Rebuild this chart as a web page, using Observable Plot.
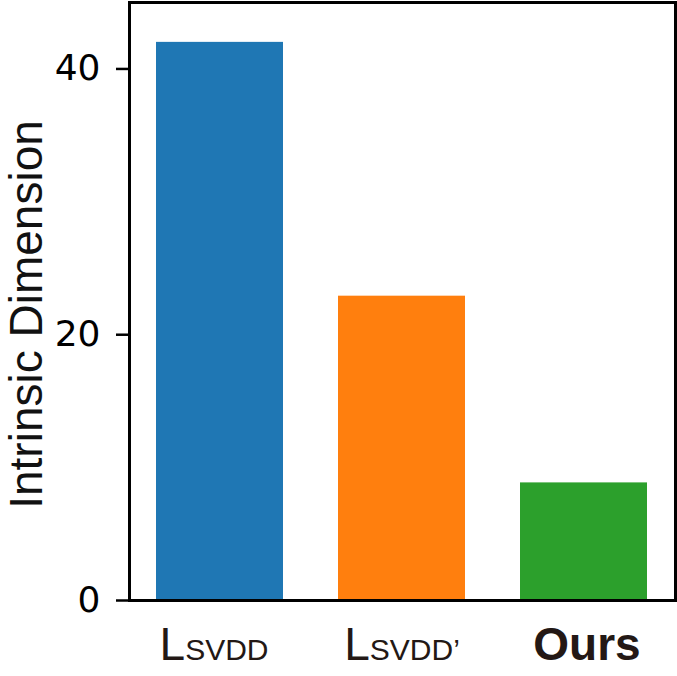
<!DOCTYPE html>
<html>
<head>
<meta charset="utf-8">
<script src="https://cdn.jsdelivr.net/npm/d3@7"></script>
<script src="https://cdn.jsdelivr.net/npm/@observablehq/plot@0.6"></script>
<style>
  html, body { margin: 0; padding: 0; background: #fff; }
</style>
</head>
<body>
<div id="chart"></div>
<script>
const categories = ["LSVDD", "LSVDD'", "Ours"];
const values = [42, 22.9, 8.85];
const colors = ["#1f77b4", "#ff7f0e", "#2ca02c"];
const yTicks = [0, 20, 40];
const yLabel = "Intrinsic Dimension";

const data = categories.map((c, i) => ({category: c, value: values[i], color: colors[i]}));

const chart = Plot.plot({
  width: 677,
  height: 676,
  marginLeft: 129,
  marginRight: 2,
  marginTop: 2,
  marginBottom: 76,
  style: {background: "#fff", fontFamily: "DejaVu Sans"},
  x: {domain: categories, paddingInner: 0.3, paddingOuter: 0.15, axis: null},
  y: {domain: [0, 45], axis: null},
  marks: [
    Plot.barY(data, {x: "category", y: "value", fill: "color"}),
    Plot.axisY({ticks: yTicks, tickSize: 13, tickPadding: 16, fontSize: 36, strokeWidth: 2.5, label: null, fill: "#000", color: "#000"}),
    Plot.axisX({tickSize: 0, tickPadding: 27, fontSize: 46, label: null, fontFamily: "Liberation Sans", fill: "#231815"}),
    Plot.text([yLabel], {text: d => d, frameAnchor: "left", textAnchor: "middle", rotate: -90, dx: -88, dy: 13, lineAnchor: "bottom", fontSize: 46, fontFamily: "Liberation Sans", fill: "#111"}),
    Plot.frame({stroke: "#000", strokeWidth: 3})
  ]
});

// Style the x tick labels: large L with smaller caps; bold "Ours"
d3.select(chart).selectAll("text").each(function() {
  const t = this.textContent;
  if (t === "LSVDD" || t === "LSVDD'") {
    const el = d3.select(this);
    el.text("");
    el.append("tspan").text("L");
    el.append("tspan").attr("font-size", 30).text(t === "LSVDD" ? "SVDD" : "SVDD\u2019");
    if (t === "LSVDD") el.attr("dx", -6);
  } else if (t === "Ours") {
    d3.select(this).attr("font-weight", "bold").attr("dx", 3);
  }
});

document.getElementById("chart").appendChild(chart);
</script>
</body>
</html>
